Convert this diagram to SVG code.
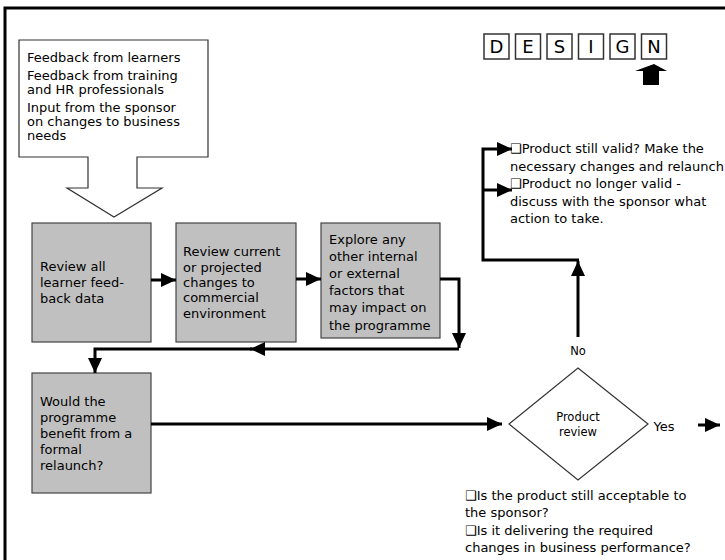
<svg xmlns="http://www.w3.org/2000/svg" width="725" height="560" viewBox="0 0 725 560">
  <style>
    text { font-family: "DejaVu Sans", "Liberation Sans", sans-serif; font-size: 13px; fill: #000; }
    .box { fill: #c0c0c0; stroke: #444; stroke-width: 1.2; }
    .thin { fill: #fff; stroke: #333; stroke-width: 1.2; }
    .conn { fill: none; stroke: #000; stroke-width: 3; }
    .letter { fill: #fff; stroke: #333; stroke-width: 1.5; }
    .lt { font-size: 18px; text-anchor: middle; }
    .mid { text-anchor: middle; }
    .sm { font-size: 11.5px; }
  </style>
  <defs>
    <marker id="ah" markerUnits="userSpaceOnUse" markerWidth="16" markerHeight="16" viewBox="0 0 16 16" refX="15" refY="8" orient="auto">
      <path d="M0,1 L15,8 L0,15 Z" fill="#000"/>
    </marker>
  </defs>

  <rect width="725" height="560" fill="#fff"/>
  <!-- frame -->
  <rect x="5" y="8" width="740" height="580" fill="none" stroke="#000" stroke-width="3"/>

  <!-- DESIGN stage strip -->
  <g id="design">
    <rect class="letter" x="484" y="34" width="25" height="25"/>
    <rect class="letter" x="515.5" y="34" width="25" height="25"/>
    <rect class="letter" x="547" y="34" width="25" height="25"/>
    <rect class="letter" x="578.5" y="34" width="25" height="25"/>
    <rect class="letter" x="610" y="34" width="25" height="25"/>
    <rect class="letter" x="641.5" y="34" width="25" height="25"/>
    <text class="lt" x="496.5" y="53">D</text>
    <text class="lt" x="528" y="53">E</text>
    <text class="lt" x="559.5" y="53">S</text>
    <text class="lt" x="591" y="53">I</text>
    <text class="lt" x="622.5" y="53">G</text>
    <text class="lt" x="654" y="53">N</text>
    <polygon points="654,64 667,71 659,71 659,85 643,85 643,71 635,71" fill="#000"/>
  </g>

  <!-- input callout -->
  <g id="inputs">
    <path class="thin" d="M19,40 H208 V157 H137 V188 H162 L114,217 L67,188 H88 V157 H19 Z"/>
    <text x="27" y="62">Feedback from learners</text>
    <text x="27" y="80">Feedback from training</text>
    <text x="27" y="94">and HR professionals</text>
    <text x="27" y="112">Input from the sponsor</text>
    <text x="27" y="126">on changes to business</text>
    <text x="27" y="140">needs</text>
  </g>

  <g id="review-feedback">
    <rect class="box" x="32" y="223" width="119" height="119"/>
    <text x="40" y="271">Review all</text>
    <text x="40" y="287">learner feed-</text>
    <text x="40" y="303">back data</text>
  </g>

  <g id="review-environment">
    <rect class="box" x="176" y="223" width="120" height="119"/>
    <text x="183" y="256">Review current</text>
    <text x="183" y="272">or projected</text>
    <text x="183" y="287">changes to</text>
    <text x="183" y="302">commercial</text>
    <text x="183" y="318">environment</text>
  </g>

  <g id="explore-factors">
    <rect class="box" x="321" y="223" width="119" height="115"/>
    <text x="329" y="244">Explore any</text>
    <text x="329" y="261">other internal</text>
    <text x="329" y="278">or external</text>
    <text x="329" y="295">factors that</text>
    <text x="329" y="312">may impact on</text>
    <text x="329" y="330">the programme</text>
  </g>

  <g id="relaunch-question">
    <rect class="box" x="32" y="373" width="119" height="120"/>
    <text x="40" y="406">Would the</text>
    <text x="40" y="422">programme</text>
    <text x="40" y="438">benefit from a</text>
    <text x="40" y="454">formal</text>
    <text x="40" y="470">relaunch?</text>
  </g>

  <g id="product-review">
    <polygon class="thin" points="578,368 648,424 578,480 509,424"/>
    <text class="mid sm" x="578" y="421">Product</text>
    <text class="mid sm" x="578" y="436">review</text>
  </g>

  <g id="outcomes">
    <text x="510" y="153">❑Product still valid? Make the</text>
    <text x="510" y="171">necessary changes and relaunch</text>
    <text x="510" y="188">❑Product no longer valid -</text>
    <text x="510" y="206">discuss with the sponsor what</text>
    <text x="510" y="223">action to take.</text>
  </g>

  <g id="review-questions">
    <text x="465" y="500">❑Is the product still acceptable to</text>
    <text x="465" y="517">the sponsor?</text>
    <text x="465" y="535">❑Is it delivering the required</text>
    <text x="465" y="552">changes in business performance?</text>
  </g>

  <g id="connectors">
    <line class="conn" x1="151" y1="280" x2="176" y2="280" marker-end="url(#ah)"/>
    <line class="conn" x1="296" y1="279" x2="321" y2="279" marker-end="url(#ah)"/>
    <polyline class="conn" points="440,279 459,279 459,348" marker-end="url(#ah)"/>
    <polyline class="conn" points="459,349 250,349" marker-end="url(#ah)"/>
    <polyline class="conn" points="252,349 95,349 95,373" marker-end="url(#ah)"/>
    <line class="conn" x1="151" y1="424" x2="502" y2="424" marker-end="url(#ah)"/>
    <line class="conn" x1="578" y1="337" x2="578" y2="261" marker-end="url(#ah)"/>
    <polyline class="conn" points="579,260 483,260 483,149 512,149" marker-end="url(#ah)"/>
    <line class="conn" x1="483" y1="190" x2="512" y2="190" marker-end="url(#ah)"/>
    <line class="conn" x1="698" y1="425" x2="720" y2="425" marker-end="url(#ah)"/>
    <text class="mid sm" x="578" y="355">No</text>
    <text class="mid" x="664" y="431">Yes</text>
  </g>
</svg>
